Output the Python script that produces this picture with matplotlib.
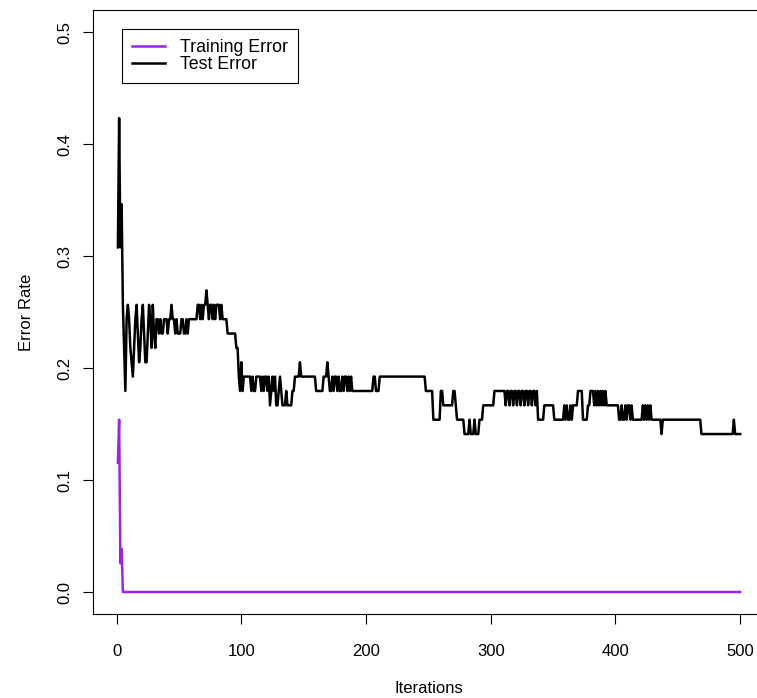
import numpy as np
import matplotlib
matplotlib.use("Agg")
import matplotlib.pyplot as plt

# errors are counts out of 78 held-out / training samples, stored as (count, run length)
n_samples = 78

train_runs = [(9, 1), (12, 1), (2, 1), (3, 1), (0, 496)]

test_runs = [
    (24, 1), (33, 1), (24, 1), (27, 1), (20, 1), (17, 1), (14, 1),
    (19, 1), (20, 1), (19, 1), (17, 1), (16, 1), (15, 1), (17, 1), (19, 1),
    (20, 1), (18, 1), (16, 1), (17, 1), (19, 1), (20, 1), (18, 1), (16, 2),
    (18, 1), (20, 1), (19, 1), (17, 1), (20, 1), (18, 1), (17, 1),
    (19, 2), (18, 1), (19, 1), (18, 2), (19, 3), (18, 1), (19, 2), (20, 1),
    (19, 2), (18, 1), (19, 1), (18, 3), (19, 2), (18, 2), (19, 1), (18, 1),
    (19, 7),
    (20, 2), (19, 1), (20, 1), (19, 1), (20, 2), (21, 1), (20, 1), (19, 1),
    (20, 2), (19, 1), (20, 1), (19, 1), (20, 3), (19, 1), (20, 1),
    (19, 4), (18, 7), (17, 2),
    (15, 1), (14, 1), (16, 1), (14, 1),
    (15, 6), (14, 1), (15, 1), (14, 2), (15, 4),
    (14, 1), (15, 1), (14, 1), (15, 2), (14, 1), (15, 1), (13, 1), (14, 1),
    (15, 1), (14, 1), (15, 1), (13, 2), (14, 1), (15, 1), (14, 1),
    (13, 3), (14, 1), (13, 4),
    (14, 2), (15, 4), (16, 1), (15, 12), (14, 6), (15, 3), (16, 1), (15, 1),
    (14, 2),
    (15, 1), (14, 1), (15, 2), (14, 1), (15, 1), (14, 2), (15, 1), (14, 1),
    (15, 2), (14, 1), (15, 1), (14, 1), (15, 1), (14, 2),
    (14, 15), (15, 2), (14, 3), (15, 37), (14, 6), (12, 6),
    (14, 2), (13, 8), (14, 2), (13, 1), (12, 6),
    (11, 4), (12, 1), (11, 3), (12, 1), (11, 3),
    (12, 3), (13, 9), (14, 9),
    (13, 1), (14, 2), (13, 1), (14, 2), (13, 1), (14, 2), (13, 1), (14, 2),
    (13, 1), (14, 2), (13, 1), (14, 2), (13, 1), (14, 2), (13, 1), (14, 2),
    (13, 1), (14, 1),
    (12, 5), (13, 8), (12, 8),
    (13, 1), (12, 1), (13, 1), (12, 2), (13, 1), (12, 1),
    (13, 4), (14, 4), (12, 4), (13, 2),
    (14, 3), (13, 1), (14, 1), (13, 1), (14, 1), (13, 1), (14, 1), (13, 1),
    (14, 1), (13, 1), (14, 1),
    (13, 10),
    (12, 2), (13, 1), (12, 2), (13, 1), (12, 1), (13, 2), (12, 1), (13, 1),
    (12, 3),
    (12, 5), (13, 1), (12, 1), (13, 1), (12, 1), (13, 1), (12, 1), (13, 1),
    (12, 8), (11, 1), (12, 31), (11, 26), (12, 1), (11, 5),
]


def expand(runs):
    vals = [v for v, n in runs]
    reps = [n for v, n in runs]
    return np.repeat(vals, reps) / n_samples


train_err = expand(train_runs)
test_err = expand(test_runs)
iters = np.arange(1, len(test_err) + 1)

plt.rcParams["font.family"] = ["Liberation Sans", "DejaVu Sans"]

W, H = 757, 698
fig = plt.figure(figsize=(W / 100, H / 100), dpi=100)
# plot region is wider than the image: the right edge of the box is cut off
left, right, bottom, top = 93, 765, 614.4, 9.6
ax = fig.add_axes([left / W, 1 - bottom / H, (right - left) / W, (bottom - top) / H])

ax.plot(iters, train_err, color="#A020F0", lw=1.8, label="Training Error")
ax.plot(iters, test_err, color="black", lw=1.8, label="Test Error")

span = iters[-1] - iters[0]
ax.set_xlim(iters[0] - 0.04 * span, iters[-1] + 0.04 * span)
ax.set_ylim(-0.02, 0.52)

ax.set_xticks([0, 100, 200, 300, 400, 500])
ax.set_yticks([0.0, 0.1, 0.2, 0.3, 0.4, 0.5])
ax.set_yticklabels(["0.0", "0.1", "0.2", "0.3", "0.4", "0.5"], rotation=90, va="center")
ax.tick_params(axis="both", direction="out", length=7, width=0.8, labelsize=12)
ax.tick_params(axis="x", pad=14)
ax.tick_params(axis="y", pad=8)
for s in ax.spines.values():
    s.set_linewidth(0.8)

ax.set_xlabel("Iterations", fontsize=12, labelpad=16)
ax.set_ylabel("Error Rate", fontsize=12, labelpad=17)

leg = ax.legend(loc="upper left", bbox_to_anchor=(0.0432, 0.968), borderaxespad=0,
                fancybox=False, edgecolor="black", framealpha=1, fontsize=12.8,
                handlelength=1.85, handletextpad=0.85, borderpad=0.55,
                labelspacing=0.0)
leg.get_frame().set_linewidth(0.8)

fig.savefig("out.png", dpi=100)
